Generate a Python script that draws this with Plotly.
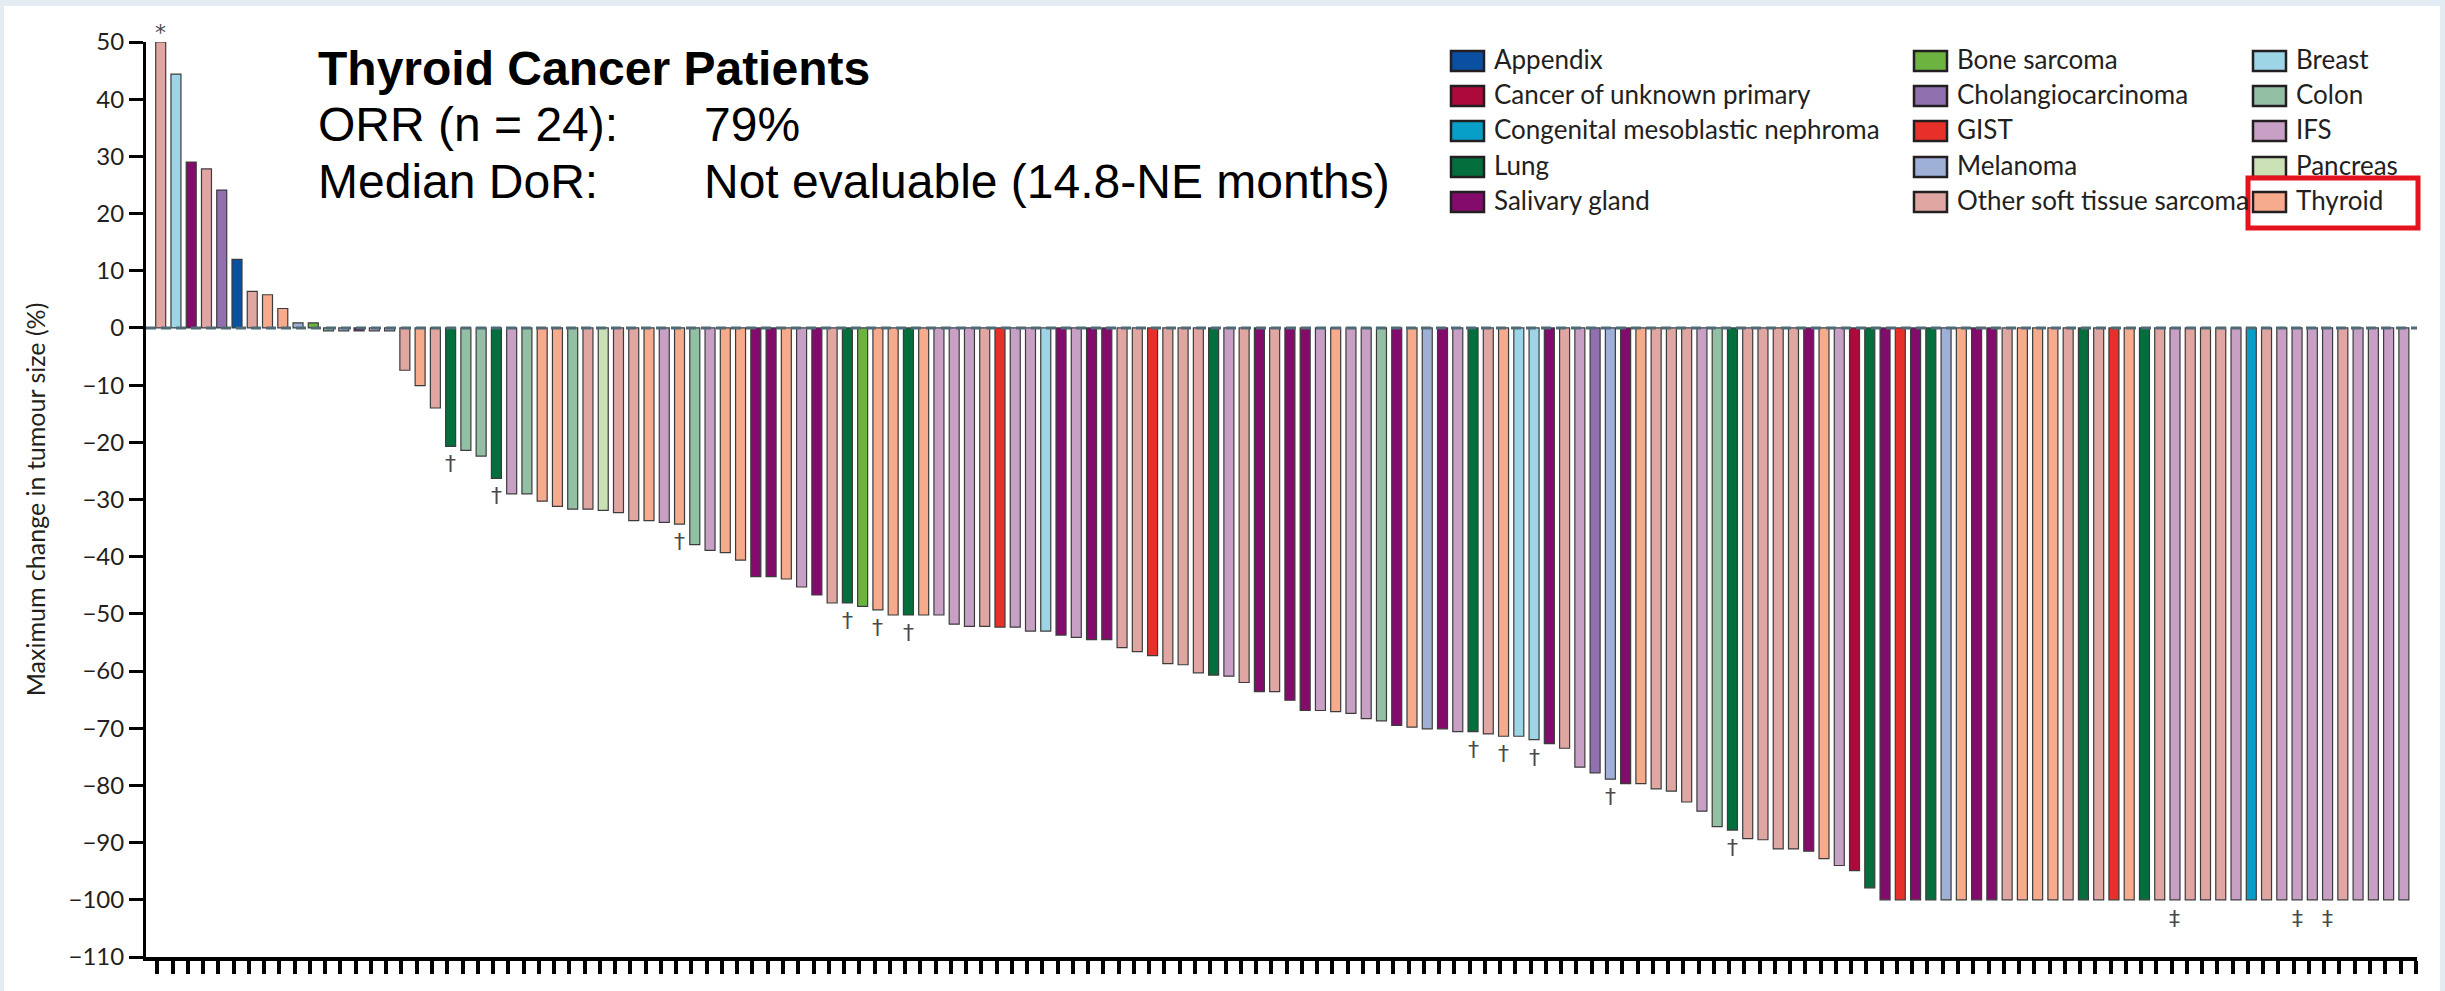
import plotly.graph_objects as go

# ---------------------------------------------------------------------------
# Data: best change from baseline in tumour size, one bar per patient,
# ordered from largest increase to largest decrease.
# ---------------------------------------------------------------------------
legend_types = [
    "Appendix", "Cancer of unknown primary", "Congenital mesoblastic nephroma", "Lung", "Salivary gland",
    "Bone sarcoma", "Cholangiocarcinoma", "GIST", "Melanoma", "Other soft tissue sarcoma",
    "Breast", "Colon", "IFS", "Pancreas", "Thyroid",
]

type_codes = {
    "APP": "Appendix", "CUP": "Cancer of unknown primary", "CMN": "Congenital mesoblastic nephroma",
    "LUNG": "Lung", "SAL": "Salivary gland", "BONE": "Bone sarcoma", "CHO": "Cholangiocarcinoma",
    "GIST": "GIST", "MEL": "Melanoma", "OSTS": "Other soft tissue sarcoma", "BRE": "Breast",
    "COL": "Colon", "IFS": "IFS", "PAN": "Pancreas", "THY": "Thyroid",
}

type_colors = {
    "Appendix": "#0b4fa0",
    "Cancer of unknown primary": "#ad0a3c",
    "Congenital mesoblastic nephroma": "#079fc8",
    "Lung": "#046e3c",
    "Salivary gland": "#830b6c",
    "Bone sarcoma": "#6db33f",
    "Cholangiocarcinoma": "#9170b0",
    "GIST": "#e8302a",
    "Melanoma": "#9fb0d6",
    "Other soft tissue sarcoma": "#e0a7a2",
    "Breast": "#9dd5e6",
    "Colon": "#93bfa4",
    "IFS": "#c8a0c6",
    "Pancreas": "#c9e1b5",
    "Thyroid": "#f5ab8c",
}

patient_type = [
    "OSTS", "BRE", "SAL", "OSTS", "CHO", "APP", "OSTS", "THY", "THY", "MEL",
    "BONE", "COL", "MEL", "SAL", "IFS", "MEL", "OSTS", "THY", "OSTS", "LUNG",
    "COL", "COL", "LUNG", "IFS", "COL", "THY", "THY", "COL", "OSTS", "PAN",
    "OSTS", "OSTS", "THY", "IFS", "THY", "COL", "IFS", "THY", "THY", "SAL",
    "SAL", "THY", "IFS", "SAL", "OSTS", "LUNG", "BONE", "THY", "THY", "LUNG",
    "THY", "IFS", "IFS", "IFS", "OSTS", "GIST", "IFS", "IFS", "BRE", "SAL",
    "IFS", "SAL", "SAL", "OSTS", "OSTS", "GIST", "OSTS", "OSTS", "OSTS", "LUNG",
    "IFS", "OSTS", "SAL", "OSTS", "SAL", "SAL", "IFS", "THY", "IFS", "IFS",
    "COL", "SAL", "THY", "MEL", "SAL", "IFS", "LUNG", "OSTS", "THY", "BRE",
    "BRE", "SAL", "OSTS", "IFS", "CHO", "MEL", "SAL", "THY", "OSTS", "OSTS",
    "OSTS", "IFS", "COL", "LUNG", "OSTS", "OSTS", "OSTS", "OSTS", "SAL", "THY",
    "IFS", "CUP", "LUNG", "SAL", "GIST", "SAL", "LUNG", "MEL", "THY", "SAL",
    "SAL", "OSTS", "THY", "THY", "THY", "OSTS", "LUNG", "OSTS", "GIST", "THY",
    "LUNG", "OSTS", "IFS", "OSTS", "OSTS", "OSTS", "IFS", "CMN", "OSTS", "IFS",
    "IFS", "IFS", "IFS", "OSTS", "IFS", "IFS", "IFS", "IFS",
]

best_change = [
    50.0, 44.4, 29.0, 27.8, 24.1, 12.0, 6.4, 5.8, 3.4, 0.9,
    0.9, -0.5, -0.5, -0.5, -0.5, -0.5, -7.4, -10.1, -14.0, -20.7,
    -21.4, -22.4, -26.3, -29.0, -29.0, -30.3, -31.2, -31.7, -31.7, -31.9,
    -32.3, -33.7, -33.7, -34.0, -34.3, -37.9, -38.9, -39.3, -40.6, -43.5,
    -43.5, -43.9, -45.3, -46.7, -48.1, -48.1, -48.7, -49.3, -50.2, -50.2,
    -50.2, -50.2, -51.8, -52.2, -52.2, -52.3, -52.3, -53.0, -53.0, -53.7,
    -54.1, -54.5, -54.5, -55.9, -56.6, -57.3, -58.7, -58.9, -60.3, -60.7,
    -60.9, -62.0, -63.6, -63.6, -65.1, -66.9, -66.9, -67.1, -67.4, -68.3,
    -68.7, -69.5, -69.8, -70.1, -70.1, -70.6, -70.6, -71.0, -71.4, -71.4,
    -72.0, -72.7, -73.5, -76.8, -77.8, -78.9, -79.7, -79.7, -80.6, -81.0,
    -82.9, -84.5, -87.2, -87.8, -89.3, -89.5, -91.1, -91.1, -91.5, -92.8,
    -94.0, -94.9, -97.9, -100.0, -100.0, -100.0, -100.0, -100.0, -100.0, -100.0,
    -100.0, -100.0, -100.0, -100.0, -100.0, -100.0, -100.0, -100.0, -100.0, -100.0,
    -100.0, -100.0, -100.0, -100.0, -100.0, -100.0, -100.0, -100.0, -100.0, -100.0,
    -100.0, -100.0, -100.0, -100.0, -100.0, -100.0, -100.0, -100.0,
]

# Footnote symbols, by patient rank (1-based position along the x axis)
asterisk_patients = [1]
dagger_patients = [20, 23, 35, 46, 48, 50, 87, 89, 91, 96, 104]
double_dagger_patients = [133, 141, 143]

y_ticks = [50, 40, 30, 20, 10, 0, -10, -20, -30, -40, -50, -60, -70, -80, -90, -100, -110]

summary_title = "Thyroid Cancer Patients"
summary_rows = [("ORR (n = 24):", "79%"),
                ("Median DoR:", "Not evaluable (14.8-NE months)")]

# ---------------------------------------------------------------------------
# Figure geometry (pixels)
# ---------------------------------------------------------------------------
W, H = 2445, 991
L, R, T, B = 146, 28, 42, 34
PLOT_W, PLOT_H = W - L - R, H - T - B


def px(x):
    return (x - L) / PLOT_W


def py(y):
    return (H - B - y) / PLOT_H


n = len(best_change)
x_pos = list(range(n))
bar_colors = [type_colors[type_codes[c]] for c in patient_type]
type_names = [type_codes[c] for c in patient_type]

fig = go.Figure()
fig.add_trace(go.Bar(
    x=x_pos,
    y=best_change,
    marker=dict(color=bar_colors, line=dict(color="#3c3c3c", width=1.2)),
    customdata=type_names,
    hovertemplate="%{customdata}<br>%{y}%<extra></extra>",
    showlegend=False,
))

shapes = []
annotations = []

# white panel behind the chart
shapes.append(dict(type="rect", xref="paper", yref="paper",
                   x0=px(4), x1=px(2440), y0=py(H), y1=py(6),
                   fillcolor="white", line=dict(width=0), layer="below"))

# dashed zero reference line
shapes.append(dict(type="line", xref="paper", yref="y", x0=0, x1=1, y0=0, y1=0,
                   line=dict(color="#506b78", width=3, dash="10px,5px"), layer="above"))

# footnote symbols
sym_font = dict(family="DejaVu Sans", size=22, color="#4a4a4a")
for p in asterisk_patients:
    annotations.append(dict(x=x_pos[p - 1], y=best_change[p - 1], xref="x", yref="y",
                            text="*", showarrow=False, yanchor="bottom", yshift=-5,
                            font=sym_font))
for p in dagger_patients:
    annotations.append(dict(x=x_pos[p - 1], y=best_change[p - 1], xref="x", yref="y",
                            text="†", showarrow=False, yanchor="top", yshift=-3,
                            font=sym_font))
for p in double_dagger_patients:
    annotations.append(dict(x=x_pos[p - 1], y=best_change[p - 1], xref="x", yref="y",
                            text="‡", showarrow=False, yanchor="top", yshift=-4,
                            font=sym_font))

# summary block
title_font = dict(family="Liberation Sans, Arial", size=48, color="black")
annotations.append(dict(x=px(316), y=py(68), xref="paper", yref="paper",
                        text="<b>" + summary_title + "</b>", showarrow=False,
                        xanchor="left", yanchor="middle", font=title_font))
for k, (label, value) in enumerate(summary_rows):
    yy = py(125 + 57 * k)
    annotations.append(dict(x=px(316), y=yy, xref="paper", yref="paper", text=label,
                            showarrow=False, xanchor="left", yanchor="middle", font=title_font))
    annotations.append(dict(x=px(702), y=yy, xref="paper", yref="paper", text=value,
                            showarrow=False, xanchor="left", yanchor="middle", font=title_font))

# legend: 3 columns x 5 rows
legend_cols_x = [1451, 1914, 2253]
legend_rows_y = [59, 94, 129, 165, 200]
legend_font = dict(family="Lato", size=26, color="#231f20")
for k, name in enumerate(legend_types):
    col, row = divmod(k, 5)
    bx = legend_cols_x[col]
    cy = legend_rows_y[row]
    shapes.append(dict(type="rect", xref="paper", yref="paper",
                       x0=px(bx), x1=px(bx + 33), y0=py(cy + 12), y1=py(cy - 8),
                       fillcolor=type_colors[name], line=dict(color="#231f20", width=2.5),
                       layer="above"))
    annotations.append(dict(x=px(bx + 41), y=py(cy), xref="paper", yref="paper",
                            text=name, showarrow=False, xanchor="left", yanchor="middle",
                            font=legend_font))

# highlight frame around the Thyroid legend entry
shapes.append(dict(type="rect", xref="paper", yref="paper",
                   x0=px(2248), x1=px(2418), y0=py(228), y1=py(178),
                   fillcolor="rgba(0,0,0,0)", line=dict(color="#e5131d", width=5),
                   layer="above"))

fig.update_layout(
    width=W, height=H, autosize=False,
    margin=dict(l=L, r=R, t=T, b=B, pad=0),
    paper_bgcolor="#e3ecf3",
    plot_bgcolor="white",
    showlegend=False,
    bargap=0.345,
    shapes=shapes,
    annotations=annotations,
    xaxis=dict(
        range=[-0.963, 147.86],
        showgrid=False, zeroline=False,
        showline=True, linecolor="black", linewidth=4,
        ticks="outside", ticklen=13, tickwidth=4, tickcolor="black",
        tickvals=[i - 0.22 for i in range(n + 1)],
        showticklabels=False,
    ),
    yaxis=dict(
        range=[-110, 50],
        showgrid=False, zeroline=False,
        showline=True, linecolor="black", linewidth=3,
        ticks="outside", ticklen=14, tickwidth=3, tickcolor="black",
        tickvals=y_ticks,
        tickfont=dict(family="Lato", size=24, color="#231f20"),
        title=dict(text="Maximum change in tumour size (%)",
                   font=dict(family="Lato", size=25, color="#231f20"), standoff=16),
    ),
)

fig.write_html("out.html")
